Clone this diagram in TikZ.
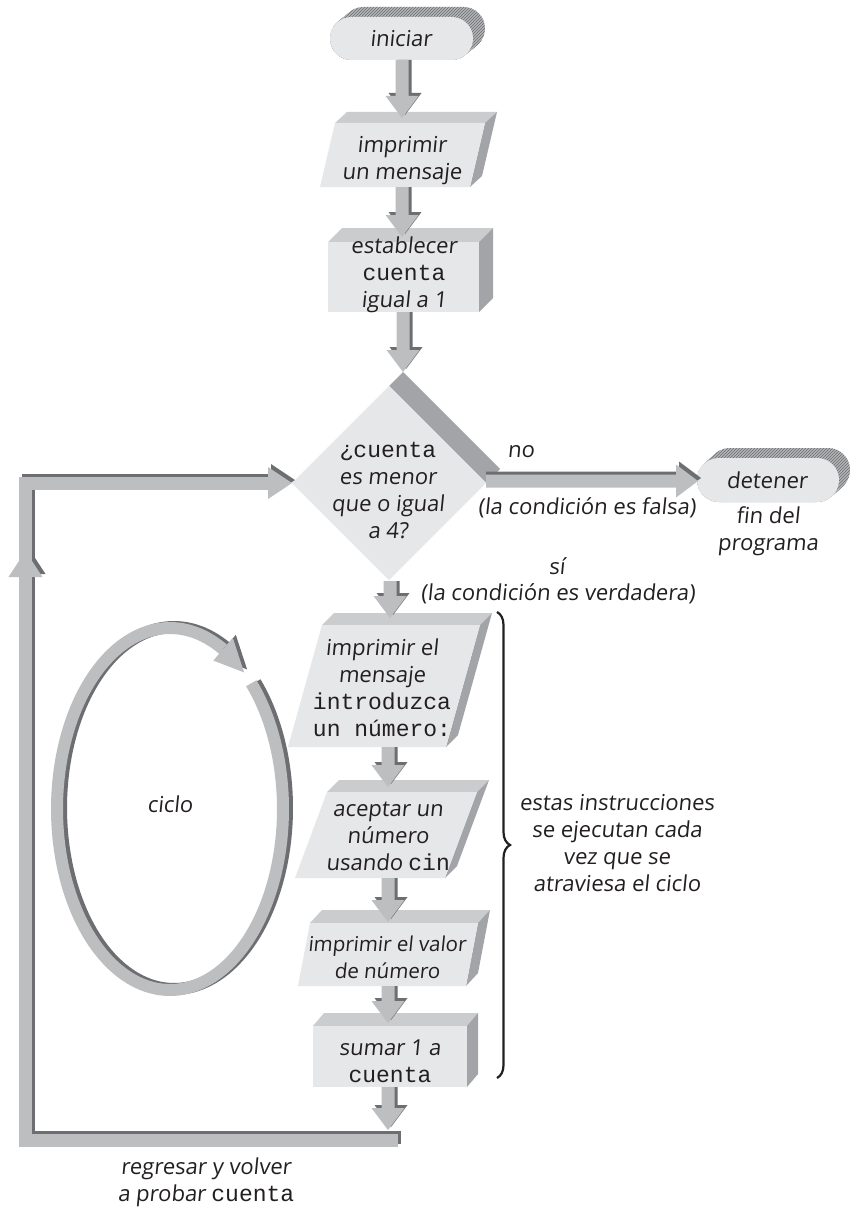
\documentclass[tikz,border=0pt]{standalone}
\usepackage{fontspec}
\setmainfont{Open Sans}[FakeSlant=0.1]
\setmonofont{Liberation Mono}
\usetikzlibrary{calc,decorations.pathreplacing,patterns}

\definecolor{facefront}{HTML}{E6E7E8}
\definecolor{facetop}{HTML}{CBCCCE}
\definecolor{faceside}{HTML}{A2A4A7}
\definecolor{arrlight}{HTML}{BCBEC0}
\definecolor{arrdark}{HTML}{6D6E71}
\definecolor{hatchbg}{HTML}{B3B4B6}
\definecolor{inkc}{HTML}{231F20}

\newcommand\cdtxt[1]{{\ttfamily\fontsize{23}{27}\selectfont #1}}

% extruded quadrilateral: front TLx,TRx,BLx,BRx between ytop and ybot,
% pushed back by #7 to the right and #8 upwards
\newcommand\slab[8]{%
  \fill[facetop] (#1,#5) -- ({#1+#7},{#5-#8}) -- ({#2+#7},{#5-#8}) -- (#2,#5) -- cycle;
  \fill[faceside] (#2,#5) -- ({#2+#7},{#5-#8}) -- ({#4+#7},{#6-#8}) -- (#4,#6) -- cycle;
  \fill[facefront] (#1,#5) -- (#2,#5) -- (#4,#6) -- (#3,#6) -- cycle;
}

% extruded start/stop capsule: x1,y1,x2,y2, depth right #5, up #6, corner radius #7
\newcommand\capsule[7]{%
  \foreach \k in {0,...,12}{
    \fill[hatchbg, rounded corners=#7] ({#1+\k*#5/12},{#2-\k*#6/12}) rectangle ({#3+\k*#5/12},{#4-\k*#6/12});
    \fill[pattern=north east lines, pattern color=arrdark, rounded corners=#7] ({#1+\k*#5/12},{#2-\k*#6/12}) rectangle ({#3+\k*#5/12},{#4-\k*#6/12});
  }
  \fill[facefront, rounded corners=#7] (#1,#2) rectangle (#3,#4);
}

% thick flow arrow from coordinate #1 straight down to the tip #2
\newcommand\flowdown[2]{%
  \fill[arrdark] let \p1=(#1), \p2=(#2) in
    (\x2-3.5pt,\y1) -- (\x2+9.5pt,\y1) -- (\x2+9.5pt,\y2+25pt) -- (\x2+19.5pt,\y2+25pt)
    -- (\x2+3pt,\y2+3pt) -- (\x2-13.5pt,\y2+25pt) -- (\x2-3.5pt,\y2+25pt) -- cycle;
  \fill[arrlight] let \p1=(#1), \p2=(#2) in
    (\x2-6.5pt,\y1) -- (\x2+6.5pt,\y1) -- (\x2+6.5pt,\y2+22pt) -- (\x2+16.5pt,\y2+22pt)
    -- (\x2,\y2) -- (\x2-16.5pt,\y2+22pt) -- (\x2-6.5pt,\y2+22pt) -- cycle;
}
% thick flow arrow from coordinate #1 straight right to the tip #2
\newcommand\flowright[2]{%
  \fill[arrdark] let \p1=(#1), \p2=(#2) in
    (\x1,\y2+9.5pt) -- (\x2-19pt,\y2+9.5pt) -- (\x2-19pt,\y2+19.5pt) -- (\x2+3pt,\y2+3pt)
    -- (\x2-19pt,\y2-13.5pt) -- (\x2-19pt,\y2-3.5pt) -- (\x1,\y2-3.5pt) -- cycle;
  \fill[arrlight] let \p1=(#1), \p2=(#2) in
    (\x1,\y2+6.5pt) -- (\x2-22pt,\y2+6.5pt) -- (\x2-22pt,\y2+16.5pt) -- (\x2,\y2)
    -- (\x2-22pt,\y2-16.5pt) -- (\x2-22pt,\y2-6.5pt) -- (\x1,\y2-6.5pt) -- cycle;
}

\begin{document}
\begin{tikzpicture}[x=1pt,y=-1pt,
  every node/.style={inner sep=0pt,text=inkc},
  lbl/.style={align=center,font=\fontsize{22}{27}\selectfont}]
\useasboundingbox (0,0) rectangle (850,1212);
\fill[white] (0,0) rectangle (850,1212);

% ---- loop ring ----
\draw[arrdark, line width=12pt] plot[domain=-298:44, samples=160]
  ({174+113*cos(\x)},{808-181*sin(\x)});
\draw[arrlight, line width=12pt] plot[domain=-298:44, samples=160]
  ({170+113*cos(\x)},{809-181*sin(\x)});
\fill[arrdark] (216.4,657.6) -- (235.8,634.8) -- (247.1,669.4) -- cycle;
\fill[arrlight] (213.4,660.6) -- (232.8,637.8) -- (244.1,672.4) -- cycle;

% ---- shapes ----
\capsule{330}{17}{473}{60}{12}{10}{21.4}
\slab{335}{485}{320}{470}{123}{187}{12}{11}
\slab{328}{479}{328}{479}{242}{312}{14}{14}
% decision diamond
\fill[faceside] (389,386) -- (403,372) -- (500,469) -- (486,483) -- cycle;
\fill[facefront] (292,483) -- (389,386) -- (486,483) -- (389,580) -- cycle;
\capsule{697}{458}{839}{502}{11}{10}{21.9}
\slab{322}{480}{288}{446}{625}{747}{12}{12}
\slab{327}{477}{295}{445}{792}{878}{12}{12}
\slab{310}{478}{298}{466}{923}{986}{12}{13}
\slab{313}{467}{313}{467}{1026}{1087}{11}{13}

% ---- connection points ----
\coordinate (ini-out) at (402,60);
\coordinate (msg-in) at (402,118);
\coordinate (msg-out) at (402,187);
\coordinate (est-in) at (402,237);
\coordinate (est-out) at (402,312);
\coordinate (dec-n) at (403,372);
\coordinate (dec-s) at (390,581);
\coordinate (dec-e) at (486,481);
\coordinate (dec-w) at (292,483);
\coordinate (det-w) at (698,481);
\coordinate (intro-in) at (390,618);
\coordinate (intro-out) at (388,747);
\coordinate (acep-in) at (388,787);
\coordinate (acep-out) at (388,878);
\coordinate (valor-in) at (388,922);
\coordinate (valor-out) at (388,986);
\coordinate (suma-in) at (388,1023);
\coordinate (suma-out) at (388,1087);
\coordinate (loop-in) at (388,1130);
\coordinate (loopR) at (398,1140);
\coordinate (loopBL) at (25.5,1140);
\coordinate (loopTL) at (25.5,483);
\coordinate (loopE) at (268,483);

% ---- return path ----
\draw[arrdark, line width=13pt] ($(loopR)+(3,-3)$) -- ($(loopBL)+(3,-3)$) -- ($(loopTL)+(3,-3)$) -- ($(loopE)+(3,-3)$);
\fill[arrdark] ($(dec-w)+(3,-3)$) -- ($(loopE)+(3,-19)$) -- ($(loopE)+(3,13)$) -- cycle;
\fill[arrdark] (28.5,548) -- (45.5,574) -- (11.5,574) -- cycle;
\draw[arrlight, line width=13pt] (loopR) -- (loopBL) -- (loopTL) -- (loopE);
\fill[arrlight] (dec-w) -- ($(loopE)+(0,-16)$) -- ($(loopE)+(0,16)$) -- cycle;
\fill[arrlight] (25.5,551) -- (42.5,577) -- (8.5,577) -- cycle;

% ---- flow arrows ----
\flowdown{ini-out}{msg-in}
\flowdown{msg-out}{est-in}
\flowdown{est-out}{dec-n}
\flowdown{dec-s}{intro-in}
\flowdown{intro-out}{acep-in}
\flowdown{acep-out}{valor-in}
\flowdown{valor-out}{suma-in}
\flowdown{suma-out}{loop-in}
\flowright{dec-e}{det-w}

% ---- brace ----
\draw[inkc, line width=2.2pt, decorate, decoration={brace, amplitude=13pt}] (497,612) -- (497,1078);

% ---- texts ----
\node[lbl] (ini) at (401,39) {iniciar};
\node[lbl] (msg) at (402,161) {imprimir\\un mensaje};
\node[lbl] (est) at (404,275) {establecer\\\cdtxt{cuenta}\\igual a 1};
\node[lbl] (dec) at (388,490) {\cdtxt{¿cuenta}\\es menor\\que o igual\\a 4?};
\node[lbl] (det) at (767,480) {detener};
\node[lbl] (fin) at (768,531) {fin del\\programa};
\node[lbl] (no) at (521,452) {no};
\node[lbl] (falsa) at (587,508) {(la condición es falsa)};
\node[lbl] (si) at (557,566) {sí};
\node[lbl] (verd) at (558,594) {(la condición es verdadera)};
\node[lbl] (intro) at (382,688) {imprimir el\\mensaje\\\cdtxt{introduzca}\\\cdtxt{un número:}};
\node[lbl] (acep) at (388,836) {aceptar un\\número\\usando \cdtxt{cin}};
\node[lbl, font=\fontsize{20.5}{27}\selectfont] (valor) at (387,957) {imprimir el valor\\de número};
\node[lbl] (suma) at (390,1061) {sumar 1 a\\\cdtxt{cuenta}};
\node[lbl] (inst) at (617,843) {estas instrucciones\\se ejecutan cada\\vez que se\\atraviesa el ciclo};
\node[lbl] (ciclo) at (170,804) {ciclo};
\node[lbl] (back) at (206,1182) {regresar y volver\\a probar \cdtxt{cuenta}};
\end{tikzpicture}
\end{document}
